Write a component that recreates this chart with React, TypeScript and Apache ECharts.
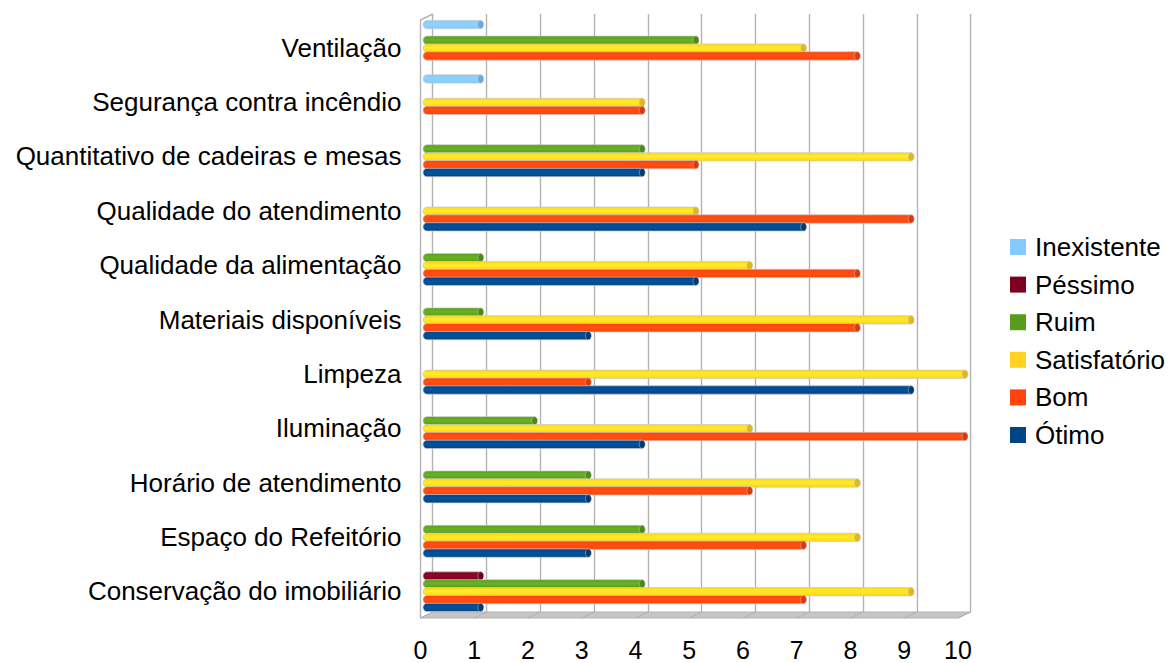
import React, { useEffect, useRef } from "react";
import * as echarts from "echarts";

const categories = [
  "Ventilação",
  "Segurança contra incêndio",
  "Quantitativo de cadeiras e mesas",
  "Qualidade do atendimento",
  "Qualidade da alimentação",
  "Materiais disponíveis",
  "Limpeza",
  "Iluminação",
  "Horário de atendimento",
  "Espaço do Refeitório",
  "Conservação do imobiliário",
];
const inexistente = [1, 1, 0, 0, 0, 0, 0, 0, 0, 0, 0];
const pessimo = [0, 0, 0, 0, 0, 0, 0, 0, 0, 0, 1];
const ruim = [5, 0, 4, 0, 1, 1, 0, 2, 3, 4, 4];
const satisfatorio = [7, 4, 9, 5, 6, 9, 10, 6, 8, 8, 9];
const bom = [8, 4, 5, 9, 8, 8, 3, 10, 6, 7, 7];
const otimo = [0, 0, 4, 7, 5, 3, 9, 4, 3, 3, 1];

const seriesDefs = [
  { name: "Inexistente", values: inexistente, color: "#83caff", bright: "#8fd2ff", cap: "#6fa9dc" },
  { name: "Péssimo", values: pessimo, color: "#7e0021", bright: "#8e0528", cap: "#6c001c" },
  { name: "Ruim", values: ruim, color: "#579d1c", bright: "#68b321", cap: "#4c8a18" },
  { name: "Satisfatório", values: satisfatorio, color: "#ffd320", bright: "#ffee22", cap: "#e0b81c" },
  { name: "Bom", values: bom, color: "#ff420e", bright: "#ff5010", cap: "#dc390c" },
  { name: "Ótimo", values: otimo, color: "#004586", bright: "#00529e", cap: "#003b73" },
];

const FONT = "'Liberation Sans', Arial, sans-serif";
const GRID_COLOR = "#b3b3b3";
const BACK = { left: 432.7, top: 14, width: 538, height: 598 };
const WALL = { left: 420.5, top: 20, width: 537.5, height: 598 };
const LABELS = { left: 420.5, top: 20.5, width: 537.5, height: 598 };
const BARS = { left: 429.5, top: 17, width: 538, height: 598 };
const SLOT = 7.85;

function makeRender(index: number, def: (typeof seriesDefs)[number]) {
  return (_params: any, api: any) => {
    const end = api.coord([api.value(0), api.value(1)]);
    const start = api.coord([0, api.value(1)]);
    const h = SLOT + 0.5;
    const y = end[1] + (index - 2.5) * SLOT - h / 2;
    const x0 = start[0] - 6.5;
    const x1 = end[0] - 2.5;
    return {
      type: "group",
      children: [
        {
          type: "rect",
          shape: { x: x0, y, width: x1 - x0, height: h, r: [h / 2, 0, 0, h / 2] },
          style: {
            fill: new echarts.graphic.LinearGradient(0, 0, 0, 1, [
              { offset: 0, color: def.color },
              { offset: 0.45, color: def.bright },
              { offset: 1, color: def.color },
            ]),
            stroke: "#c8c8c8",
            lineWidth: 0.7,
          },
        },
        {
          type: "ellipse",
          shape: { cx: x1, cy: y + h / 2, rx: 3, ry: h / 2 },
          style: { fill: def.cap, stroke: "#c8c8c8", lineWidth: 0.5 },
        },
      ],
    };
  };
}

const floorLines = Array.from({ length: 11 }, (_, i) => ({
  type: "line",
  z: 1,
  shape: {
    x1: BACK.left + (BACK.width * i) / 10,
    y1: BACK.top + BACK.height,
    x2: WALL.left + (WALL.width * i) / 10,
    y2: WALL.top + WALL.height,
  },
  style: { stroke: "#b0b0b0", lineWidth: 1 },
}));

export default function App() {
  const ref = useRef<HTMLDivElement>(null);
  useEffect(() => {
    const chart = echarts.init(ref.current!, undefined, { renderer: "svg" });
    const bottom = WALL.top + WALL.height;
    const backBottom = BACK.top + BACK.height;
    chart.setOption({
      animation: false,
      backgroundColor: "#ffffff",
      textStyle: { fontFamily: FONT },
      grid: [
        { ...BACK, containLabel: false },
        { ...LABELS, containLabel: false },
        { ...BARS, containLabel: false },
      ],
      xAxis: [
        {
          gridIndex: 0,
          type: "value",
          min: 0,
          max: 10,
          interval: 1,
          axisLine: { show: false },
          axisTick: { show: false },
          axisLabel: { show: false },
          splitLine: { show: true, lineStyle: { color: GRID_COLOR, width: 1.4 } },
        },
        {
          gridIndex: 1,
          type: "value",
          min: 0,
          max: 10,
          interval: 1,
          axisLine: { show: false },
          axisTick: { show: false },
          splitLine: { show: false },
          axisLabel: {
            color: "#000",
            fontSize: 25,
            lineHeight: 20,
            fontFamily: FONT,
            margin: 21.5,
            hideOverlap: false,
          },
        },
        {
          gridIndex: 2,
          type: "value",
          min: 0,
          max: 10,
          interval: 1,
          axisLine: { show: false },
          axisTick: { show: false },
          axisLabel: { show: false },
          splitLine: { show: false },
        },
      ],
      yAxis: [
        {
          gridIndex: 0,
          type: "category",
          inverse: true,
          data: categories,
          axisLine: { show: false },
          axisTick: { show: false },
          axisLabel: { show: false },
        },
        {
          gridIndex: 1,
          type: "category",
          inverse: true,
          data: categories,
          axisLine: { show: false },
          axisTick: { show: false },
          axisLabel: { color: "#000", fontSize: 26, fontFamily: FONT, margin: 19, interval: 0 },
        },
        {
          gridIndex: 2,
          type: "category",
          inverse: true,
          data: categories,
          axisLine: { show: false },
          axisTick: { show: false },
          axisLabel: { show: false },
        },
      ],
      legend: {
        orient: "vertical",
        left: 1005,
        top: 229,
        icon: "rect",
        itemWidth: 16,
        itemHeight: 16,
        itemGap: 11.6,
        selectedMode: false,
        textStyle: { color: "#000", fontSize: 26, fontFamily: FONT, padding: [0, 0, 0, 4] },
        data: seriesDefs.map((d) => d.name),
      },
      graphic: [
        {
          type: "polygon",
          z: 0,
          shape: {
            points: [
              [WALL.left, bottom],
              [WALL.left + WALL.width, bottom],
              [BACK.left + BACK.width, backBottom],
              [BACK.left, backBottom],
            ],
          },
          style: { fill: "#c6c6c6", stroke: "#b3b3b3", lineWidth: 1 },
        },
        ...floorLines,
        {
          type: "polyline",
          z: 1,
          shape: {
            points: [
              [BACK.left, BACK.top],
              [WALL.left, WALL.top],
              [WALL.left, bottom],
            ],
          },
          style: { fill: "none", stroke: GRID_COLOR, lineWidth: 1.4 },
        },
      ],
      series: seriesDefs.map((def, i) => ({
        type: "custom",
        name: def.name,
        xAxisIndex: 2,
        yAxisIndex: 2,
        coordinateSystem: "cartesian2d",
        clip: false,
        z: 5 + i,
        itemStyle: { color: def.color },
        encode: { x: 0, y: 1 },
        renderItem: makeRender(i, def),
        data: def.values
          .map((v, c) => [v, categories[c]])
          .filter((d) => (d[0] as number) > 0),
      })),
    });
    return () => chart.dispose();
  }, []);
  return <div ref={ref} style={{ position: "absolute", left: 0, top: 0, width: 1169, height: 663 }} />;
}
